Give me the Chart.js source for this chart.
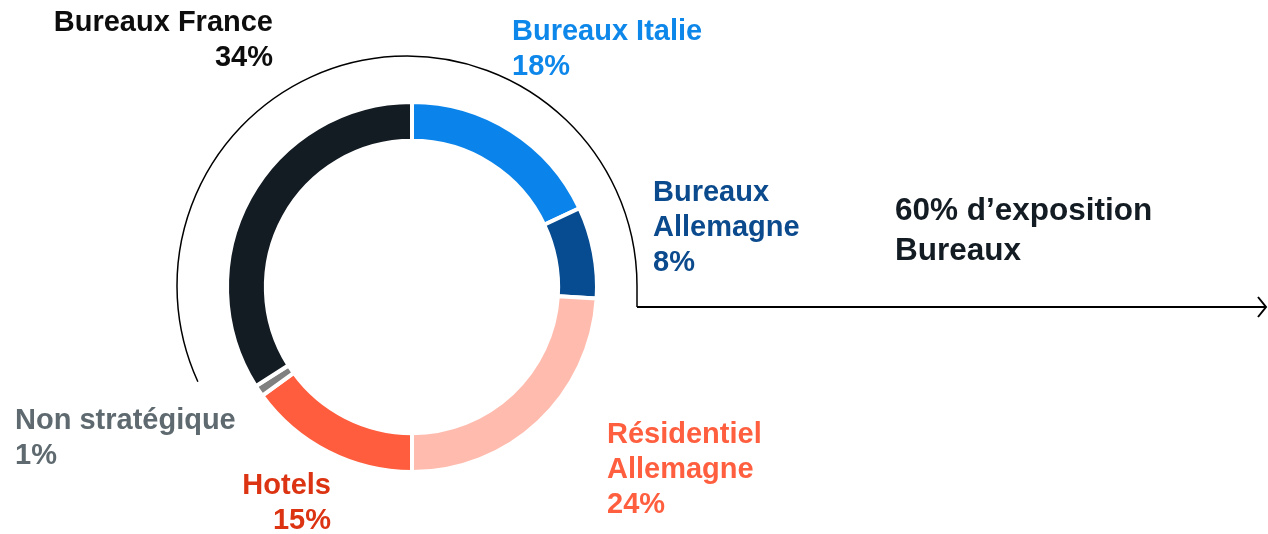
<!DOCTYPE html>
<html>
<head>
<meta charset="utf-8">
<script src="https://cdn.jsdelivr.net/npm/chart.js@4.4.1/dist/chart.umd.min.js"></script>
<style>
  html, body { margin: 0; padding: 0; background: #fff; }
  #wrap { width: 1268px; height: 534px; }
</style>
</head>
<body>
<div id="wrap"><canvas id="chart" width="1268" height="534"></canvas></div>
<script>
// portfolio split, clockwise from 12 o'clock
const segments = ['Bureaux Italie', 'Bureaux Allemagne', 'Résidentiel Allemagne', 'Hotels', 'Non stratégique', 'Bureaux France'];
const shares = [18, 8, 24, 15, 1, 34];
const sliceColors = ['#0A84EA', '#074C91', '#FFBCAE', '#FF5D3D', '#808080', '#131B23'];
const labelColors = ['#0E87EA', '#0B4A8D', '#FF5F3F', '#DC3412', '#5E6A6F', '#0D0D0D'];
const labelLines = [['Bureaux Italie'], ['Bureaux', 'Allemagne'], ['Résidentiel', 'Allemagne'], ['Hotels'], ['Non stratégique'], ['Bureaux France']];
const officeNote = ['60% d’exposition', 'Bureaux'];

// where each label sits (first baseline), and how it is aligned
const labelPos = [
  { x: 512, y: 40, align: 'left' },
  { x: 653, y: 201, align: 'left' },
  { x: 607, y: 443, align: 'left' },
  { x: 331, y: 494, align: 'right' },
  { x: 15, y: 429, align: 'left' },
  { x: 273, y: 31, align: 'right' }
];

const FONT = 'bold 29px "Liberation Sans", Arial, sans-serif';
const LINE_H = 35;

const annotations = {
  id: 'annotations',
  afterDraw(chart) {
    const ctx = chart.ctx;
    const first = chart.getDatasetMeta(0).data[0];
    const cx = first.x, cy = first.y;

    // bracket arc around the office slices, then arrow to the right
    ctx.save();
    ctx.strokeStyle = '#000';
    ctx.lineWidth = 1.5;
    const ax = cx - 5, ay = cy - 1, ar = 230;
    ctx.beginPath();
    ctx.arc(ax, ay, ar, 155.4 * Math.PI / 180, 2 * Math.PI);
    ctx.lineTo(ax + ar, 307);
    ctx.stroke();

    ctx.lineWidth = 2;
    ctx.beginPath();
    ctx.moveTo(ax + ar, 307);
    ctx.lineTo(1266, 307);
    ctx.stroke();
    ctx.beginPath();
    ctx.moveTo(1258, 297);
    ctx.lineTo(1266, 307);
    ctx.lineTo(1258, 317);
    ctx.stroke();

    // slice labels
    ctx.font = FONT;
    ctx.textBaseline = 'alphabetic';
    segments.forEach((name, i) => {
      const p = labelPos[i];
      const lines = labelLines[i].concat([shares[i] + '%']);
      ctx.fillStyle = labelColors[i];
      ctx.textAlign = p.align;
      lines.forEach((t, k) => ctx.fillText(t, p.x, p.y + k * LINE_H));
    });

    ctx.fillStyle = '#131B23';
    ctx.textAlign = 'left';
    ctx.font = 'bold 31.5px "Liberation Sans", Arial, sans-serif';
    officeNote.forEach((t, k) => ctx.fillText(t, 895, 220 + k * 40));
    ctx.restore();
  }
};

new Chart(document.getElementById('chart').getContext('2d'), {
  type: 'doughnut',
  data: {
    labels: segments,
    datasets: [{
      data: shares,
      backgroundColor: sliceColors,
      borderColor: '#fff',
      borderWidth: 4,
      borderJoinStyle: 'miter'
    }]
  },
  options: {
    responsive: false,
    animation: false,
    cutout: '79%',
    rotation: 0,
    layout: { padding: { left: 225, top: 100, right: 669, bottom: 60 } },
    plugins: {
      legend: { display: false },
      tooltip: { enabled: false }
    }
  },
  plugins: [annotations]
});
</script>
</body>
</html>
